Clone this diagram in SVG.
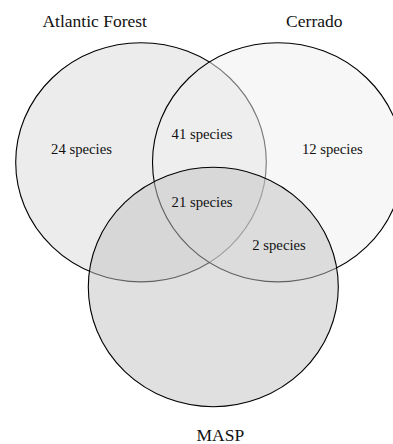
<svg xmlns="http://www.w3.org/2000/svg" width="393" height="444" viewBox="0 0 393 444">
<style>
.set{stroke:#000;stroke-width:1.1;fill-opacity:0.5}
.t{font-family:"Liberation Serif","Times New Roman",serif;fill:#111;text-anchor:middle}
.title{font-size:17.5px}
.cnt{font-size:14.7px}
</style>
<rect width="393" height="444" fill="#fff"/>
<g id="atlantic-forest">
<ellipse class="set" cx="141" cy="162.3" rx="125.3" ry="119.6" fill="#d9d9d9"/>
<text class="t title" x="94.7" y="26.5">Atlantic Forest</text>
</g>
<g id="cerrado">
<ellipse class="set" cx="277.8" cy="162.3" rx="125.3" ry="119.6" fill="#efefef"/>
<text class="t title" x="314.3" y="26.5">Cerrado</text>
</g>
<g id="masp">
<ellipse class="set" cx="213.3" cy="287" rx="125" ry="119.7" fill="#c1c1c1"/>
<text class="t title" x="220.3" y="441">MASP</text>
</g>
<g id="region-labels">
<text class="t cnt" x="81.5" y="154.3">24 species</text>
<text class="t cnt" x="202" y="139.3">41 species</text>
<text class="t cnt" x="332.3" y="154.3">12 species</text>
<text class="t cnt" x="202" y="207.3">21 species</text>
<text class="t cnt" x="279" y="250">2 species</text>
</g>
</svg>
